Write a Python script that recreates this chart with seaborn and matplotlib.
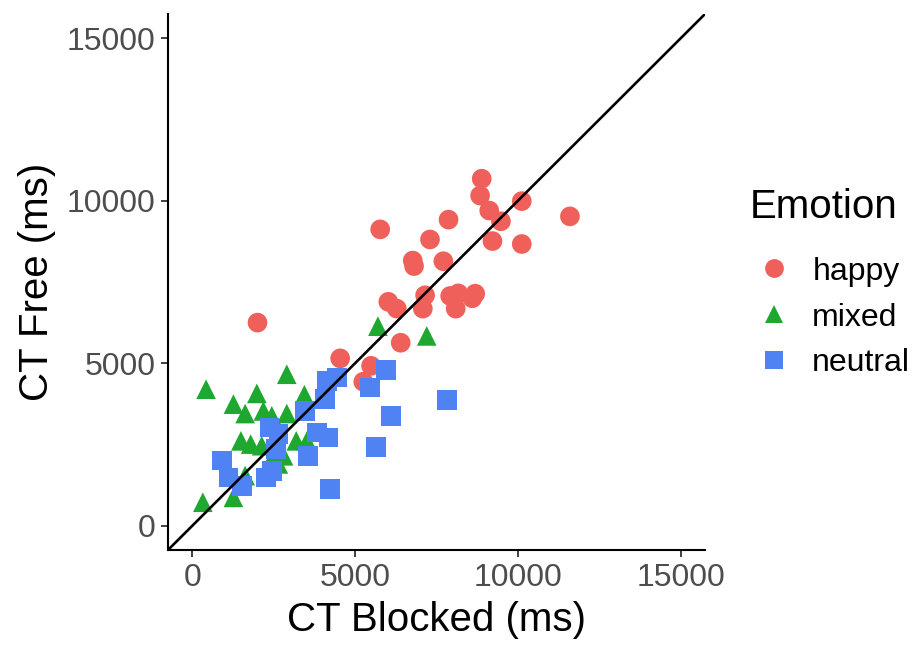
import matplotlib
matplotlib.use("Agg")
import matplotlib.pyplot as plt
import seaborn as sns
import pandas as pd

# Completion times (ms): blocked condition vs free condition, per emotion
happy_blocked = [8890, 8840, 10120, 9120, 9480, 11600, 5770, 7870, 7300, 9220,
                 10120, 6770, 6810, 7710, 6020, 6280, 7150, 7080, 7920, 8170,
                 8090, 8690, 8600, 2000, 6400, 4540, 5490, 5250]
happy_free = [10680, 10160, 9990, 9700, 9370, 9520, 9120, 9420, 8810, 8760,
              8670, 8160, 7990, 8140, 6890, 6680, 7090, 6680, 7070, 7150,
              6680, 7140, 7000, 6250, 5630, 5150, 4920, 4430]

mixed_blocked = [5700, 7200, 420, 2900, 1980, 1260, 3440, 1620, 2180, 2900,
                 2440, 1490, 1790, 2130, 3190, 3520, 2490, 2800, 1620, 320,
                 1260, 2640]
mixed_free = [6140, 5840, 4200, 4660, 4070, 3740, 4030, 3450, 3530, 3450,
              3380, 2610, 2510, 2460, 2610, 2610, 2150, 2150, 1540, 720,
              870, 1900]

neutral_blocked = [4130, 4440, 4080, 3460, 2370, 2640, 3820, 4180, 3560, 900,
                   1110, 1520, 2260, 2440, 4230, 2570, 5950, 5460, 7830, 6100,
                   5640]
neutral_free = [4460, 4560, 3890, 3530, 3020, 2820, 2870, 2710, 2150, 2000,
                1480, 1230, 1480, 1690, 1130, 2360, 4790, 4250, 3860, 3380,
                2430]

emotions = ["happy", "mixed", "neutral"]
palette = {"happy": "#F0605A", "mixed": "#1FA82F", "neutral": "#4F82F2"}
markers = {"happy": "o", "mixed": "^", "neutral": "s"}

df = pd.DataFrame({
    "blocked": happy_blocked + mixed_blocked + neutral_blocked,
    "free": happy_free + mixed_free + neutral_free,
    "Emotion": (["happy"] * len(happy_blocked) + ["mixed"] * len(mixed_blocked)
                + ["neutral"] * len(neutral_blocked)),
})

sns.set_theme(style="ticks")
plt.rcParams["font.family"] = ["Liberation Sans", "DejaVu Sans"]
plt.rcParams["text.color"] = "black"
plt.rcParams["axes.labelcolor"] = "black"

fig = plt.figure(figsize=(9.24, 6.46), dpi=100)
ax = fig.add_axes([168 / 924, 1 - 550 / 646, 537 / 924, 536 / 646])

sns.scatterplot(data=df, x="blocked", y="free", hue="Emotion", style="Emotion",
                hue_order=emotions, style_order=emotions, palette=palette,
                markers=markers, s=200, linewidth=0, alpha=1, ax=ax, zorder=2)

ax.axline((0, 0), slope=1, color="black", linewidth=1.9, zorder=3)

ax.set_xlim(-750, 15750)
ax.set_ylim(-750, 15750)
ticks = [0, 5000, 10000, 15000]
ax.set_xticks(ticks)
ax.set_yticks(ticks)
ax.set_xticklabels([str(t) for t in ticks])
ax.set_yticklabels([str(t) for t in ticks])

for side in ("top", "right"):
    ax.spines[side].set_visible(False)
for side in ("left", "bottom"):
    ax.spines[side].set_color("black")
    ax.spines[side].set_linewidth(1.5)

ax.tick_params(axis="both", length=5, width=1.3, color="#333333",
               labelsize=23, labelcolor="#4D4D4D", pad=4)
ax.set_xlabel("CT Blocked (ms)", fontsize=29, color="black", labelpad=6)
ax.set_ylabel("CT Free (ms)", fontsize=29, color="black", labelpad=8)

handles, labels = ax.get_legend_handles_labels()
ax.get_legend().remove()
for h in handles:
    h.set_markersize(13.5)
leg = fig.legend(handles, labels, title="Emotion", loc="upper left",
                 bbox_to_anchor=(734 / 924, 1 - 172 / 646), frameon=False,
                 fontsize=23, title_fontsize=29, handletextpad=0.45,
                 labelspacing=0.5, borderpad=0, handlelength=1.5)
leg._legend_box.align = "left"
leg._legend_box.sep = 22
for t in leg.get_texts():
    t.set_color("black")
leg.get_title().set_color("black")

fig.savefig("out.png", dpi=100)
